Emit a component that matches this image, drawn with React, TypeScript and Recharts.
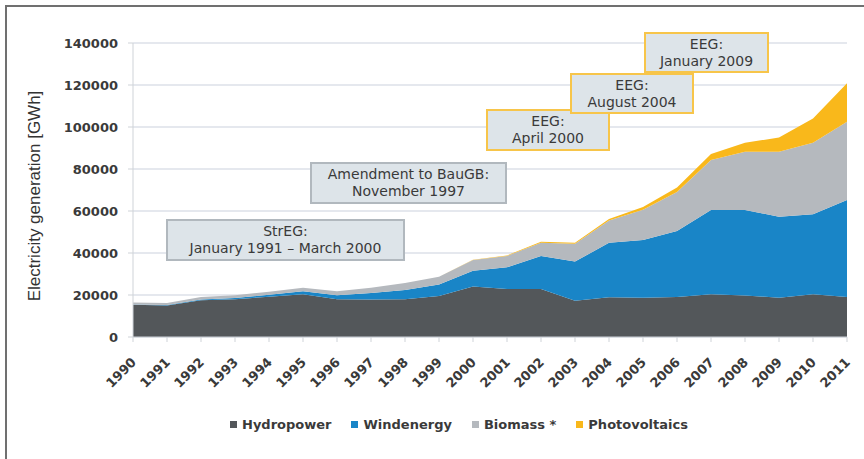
import React from 'react';
import { AreaChart, Area, XAxis, YAxis, CartesianGrid } from 'recharts';

// GWh per year
const years = [
  '1990', '1991', '1992', '1993', '1994', '1995', '1996', '1997', '1998', '1999', '2000',
  '2001', '2002', '2003', '2004', '2005', '2006', '2007', '2008', '2009', '2010', '2011',
];
const hydropower = [
  15400, 15000, 17500, 18000, 19200, 20300, 18000, 17900, 18000, 19500, 24000,
  22800, 22800, 17300, 18900, 18700, 19000, 20300, 19800, 18700, 20300, 19000,
];
const windenergy = [
  100, 200, 300, 600, 900, 1500, 1900, 3100, 4400, 5500, 7600,
  10400, 15800, 18600, 26000, 27500, 31500, 40200, 40700, 38600, 38100, 46200,
];
const biomass = [
  900, 1000, 1300, 1300, 1500, 1700, 1900, 2500, 3300, 3700, 5100,
  5400, 6300, 8500, 10600, 14400, 18500, 23800, 27700, 30900, 34100, 37300,
];
const photovoltaics = [
  0, 0, 0, 0, 0, 0, 0, 0, 0, 0, 100,
  200, 400, 500, 700, 1300, 2200, 2900, 4300, 6800, 11500, 18300,
];
const yTicks = [0, 20000, 40000, 60000, 80000, 100000, 120000, 140000];

const series = [
  { key: 'hydro', name: 'Hydropower', color: '#53575a', values: hydropower },
  { key: 'wind', name: 'Windenergy', color: '#1985c7', values: windenergy },
  { key: 'bio', name: 'Biomass *', color: '#b5b9be', values: biomass },
  { key: 'pv', name: 'Photovoltaics', color: '#f9b81b', values: photovoltaics },
];

const notes = [
  { lines: ['StrEG:', 'January 1991 \u2013 March 2000'], left: 166, top: 219, width: 239, height: 42, border: '#b1b8be' },
  { lines: ['Amendment to BauGB:', 'November 1997'], left: 310, top: 162, width: 197, height: 42, border: '#b1b8be' },
  { lines: ['EEG:', 'April 2000'], left: 486, top: 109, width: 124, height: 42, border: '#f7c54a' },
  { lines: ['EEG:', 'August 2004'], left: 570, top: 73, width: 124, height: 41, border: '#f7c54a' },
  { lines: ['EEG:', 'January 2009'], left: 644, top: 32, width: 125, height: 41, border: '#f7c54a' },
];

const data = years.map((year, i) => {
  const row: Record<string, string | number> = { year };
  series.forEach((s) => {
    row[s.key] = s.values[i];
  });
  return row;
});

const tickFont = 'DejaVu Sans, Verdana, sans-serif';

const YearTick = (props: any) => {
  const { x, y, payload } = props;
  const tx = x + 4;
  const ty = y + 19;
  return (
    <text
      x={tx}
      y={ty}
      transform={`rotate(-45 ${tx} ${ty})`}
      textAnchor="end"
      fontFamily={tickFont}
      fontWeight="bold"
      fontSize={13}
      fill="#3a3a3a"
    >
      {payload.value}
    </text>
  );
};

export default function App() {
  return (
    <div
      style={{
        position: 'absolute',
        left: 0,
        top: 0,
        width: 864,
        height: 459,
        background: '#fff',
        overflow: 'hidden',
      }}
    >
      {/* frame */}
      <div
        style={{
          position: 'absolute',
          left: 5,
          top: 5,
          width: 870,
          height: 470,
          borderTop: '2px solid #707070',
          borderLeft: '2px solid #707070',
        }}
      />
      <AreaChart
        width={864}
        height={459}
        data={data}
        margin={{ top: 43, right: 17, bottom: 52, left: 0 }}
      >
        <CartesianGrid vertical={false} stroke="#dde1e8" strokeWidth={1.5} />
        <XAxis
          dataKey="year"
          interval={0}
          height={70}
          tickSize={5}
          axisLine={{ stroke: '#cfd3d8' }}
          tickLine={{ stroke: '#cfd3d8' }}
          tick={<YearTick />}
        />
        <YAxis
          width={133}
          domain={[0, 140000]}
          ticks={yTicks}
          interval={0}
          tickSize={5}
          tickMargin={10}
          axisLine={{ stroke: '#cfd3d8' }}
          tickLine={{ stroke: '#cfd3d8' }}
          tick={{ fontFamily: tickFont, fontWeight: 'bold', fontSize: 13, fill: '#3a3a3a' }}
        />
        {series.map((s) => (
          <Area
            key={s.key}
            type="linear"
            dataKey={s.key}
            name={s.name}
            stackId="a"
            stroke="none"
            fill={s.color}
            fillOpacity={1}
            isAnimationActive={false}
          />
        ))}
      </AreaChart>

      {/* y-axis title */}
      <div
        style={{
          position: 'absolute',
          left: 35,
          top: 196,
          transform: 'translate(-50%, -50%) rotate(-90deg)',
          whiteSpace: 'nowrap',
          fontFamily: 'Liberation Sans, Arial, sans-serif',
          fontSize: 17,
          color: '#333',
        }}
      >
        Electricity generation [GWh]
      </div>

      {/* law annotations */}
      {notes.map((n, i) => (
        <div
          key={i}
          style={{
            position: 'absolute',
            left: n.left,
            top: n.top,
            width: n.width,
            height: n.height,
            boxSizing: 'border-box',
            background: '#dde4e9',
            border: `2px solid ${n.border}`,
            display: 'flex',
            flexDirection: 'column',
            justifyContent: 'center',
            alignItems: 'center',
            fontFamily: tickFont,
            fontSize: 14,
            lineHeight: '17px',
            color: '#3a3a3a',
          }}
        >
          {n.lines.map((l, j) => (
            <div key={j} style={{ whiteSpace: 'nowrap' }}>
              {l}
            </div>
          ))}
        </div>
      ))}

      {/* legend */}
      <div
        style={{
          position: 'absolute',
          left: 230,
          top: 417,
          display: 'flex',
          alignItems: 'center',
          fontFamily: tickFont,
          fontWeight: 'bold',
          fontSize: 13,
          color: '#3a3a3a',
        }}
      >
        {series.map((s, i) => (
          <div
            key={s.key}
            style={{ display: 'flex', alignItems: 'center', marginLeft: i === 0 ? 0 : 20 }}
          >
            <span
              style={{ width: 7, height: 7, background: s.color, display: 'inline-block', marginRight: 5 }}
            />
            <span style={{ whiteSpace: 'nowrap' }}>{s.name}</span>
          </div>
        ))}
      </div>
    </div>
  );
}
